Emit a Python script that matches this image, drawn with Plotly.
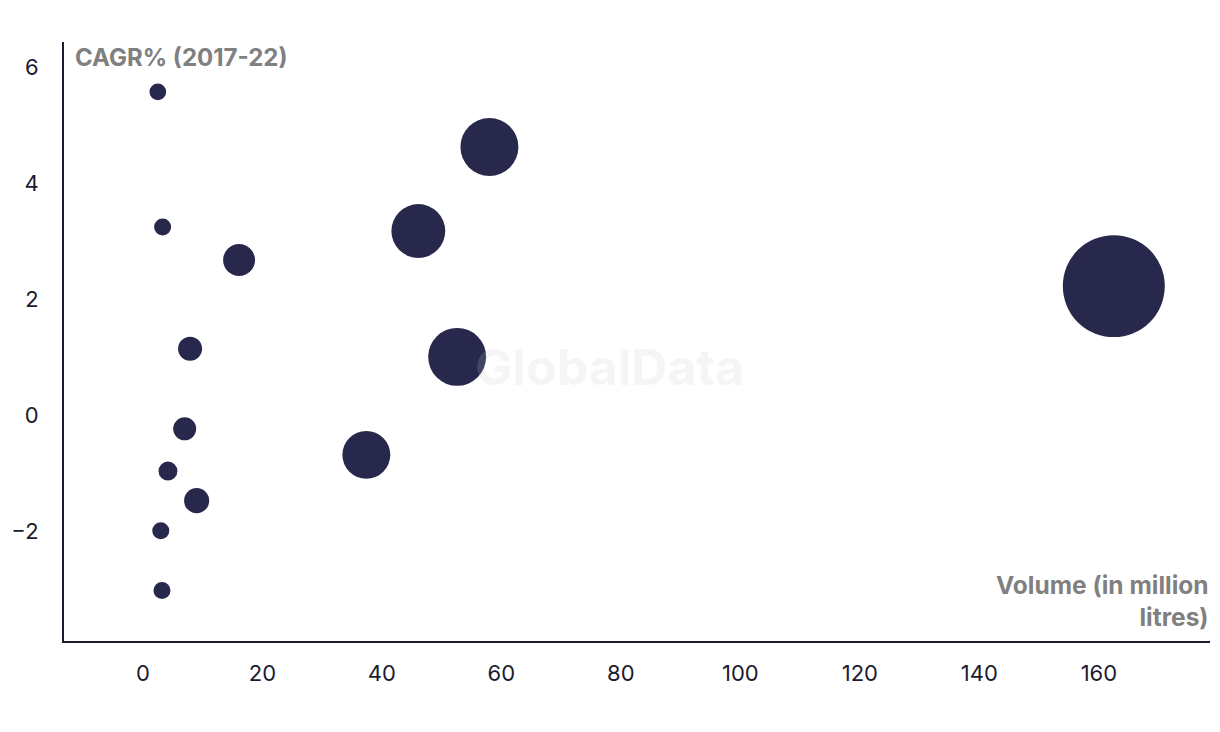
import plotly.graph_objects as go

# Data
volume = [2.5, 3.3, 16.1, 7.9, 7.0, 4.2, 9.0, 3.0, 3.2, 37.4, 46.1, 52.6, 58.0, 162.5]
cagr = [5.57, 3.24, 2.67, 1.14, -0.24, -0.97, -1.48, -2.0, -3.03, -0.69, 3.17, 1.0, 4.62, 2.22]
bubble_value = [2.8, 2.9, 10.2, 5.8, 5.3, 3.6, 6.3, 2.9, 2.9, 23.0, 29.0, 33.6, 33.6, 104.0]

x_ticks = [0, 20, 40, 60, 80, 100, 120, 140, 160]
y_ticks = [-2, 0, 2, 4, 6]

navy = "#28284d"
axis_col = "#1b1b2f"
grey = "#808080"
font_fam = "Inter, Roboto, Arial, sans-serif"

fig = go.Figure()
fig.add_trace(go.Scatter(
    x=volume, y=cagr, mode="markers",
    marker=dict(size=bubble_value, sizemode="area", sizeref=0.02,
                color=navy, opacity=1, line=dict(width=0)),
    hoverinfo="x+y",
    showlegend=False,
))

fig.update_layout(
    width=1212, height=724,
    margin=dict(l=56, r=10, t=34, b=91),
    paper_bgcolor="white", plot_bgcolor="white",
    font=dict(family=font_fam, size=22, color=axis_col),
    xaxis=dict(range=[-13.2, 178.6], tickvals=x_ticks, showgrid=False, zeroline=False,
               showline=True, linecolor=axis_col, linewidth=2, ticks="", automargin=False,
               ticklabelstandoff=12, tickfont=dict(size=22, color=axis_col)),
    yaxis=dict(range=[-3.9, 6.43], tickvals=y_ticks, showgrid=False, zeroline=False,
               showline=True, linecolor=axis_col, linewidth=2, ticks="", automargin=False,
               ticklabelstandoff=19, tickfont=dict(size=22, color=axis_col)),
    annotations=[
        dict(text="GlobalData", xref="paper", yref="paper", x=0.476, y=0.457,
             showarrow=False, xanchor="center", yanchor="middle",
             font=dict(family=font_fam, size=50, color="rgba(200,200,210,0.18)", weight="bold")),
        dict(text="<b>CAGR% (2017-22)</b>", xref="paper", yref="paper", x=0, y=1,
             xshift=9, yshift=1, showarrow=False, xanchor="left", yanchor="top",
             font=dict(family=font_fam, size=24, color=grey)),
        dict(text="<b>Volume (in million<br>litres)</b>", xref="paper", yref="paper", x=1, y=0,
             xshift=1, yshift=7, showarrow=False, xanchor="right", yanchor="bottom", align="right",
             font=dict(family=font_fam, size=24.5, color=grey)),
    ],
)

fig.write_html("out.html")
